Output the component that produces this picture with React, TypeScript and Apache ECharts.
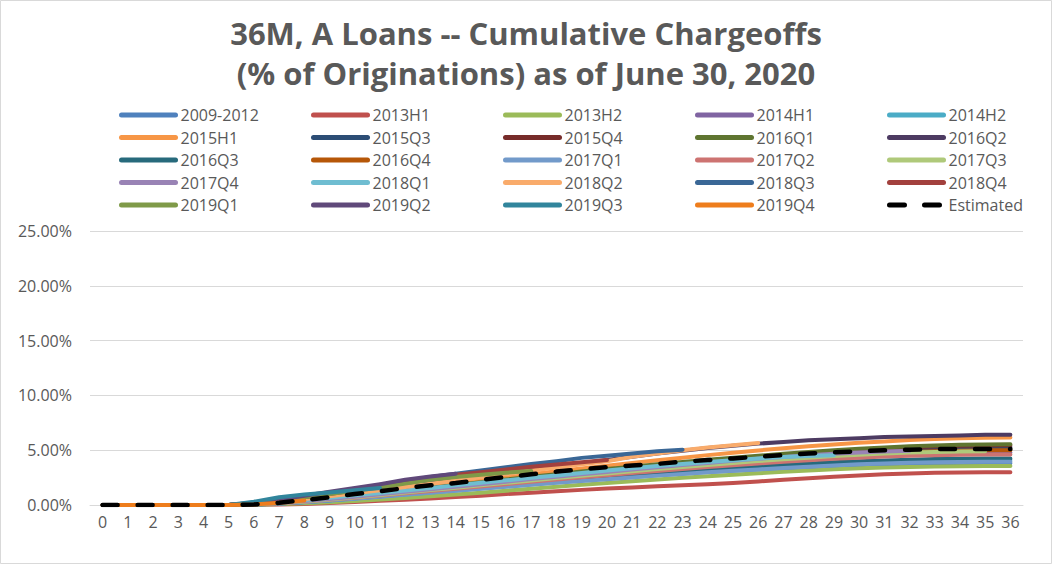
import React, { useEffect, useRef } from 'react';
import * as echarts from 'echarts';

const months = ['0','1','2','3','4','5','6','7','8','9','10','11','12','13','14','15','16','17','18','19','20','21','22','23','24','25','26','27','28','29','30','31','32','33','34','35','36'];

const seriesNames = [
  '2009-2012','2013H1','2013H2','2014H1','2014H2',
  '2015H1','2015Q3','2015Q4','2016Q1','2016Q2',
  '2016Q3','2016Q4','2017Q1','2017Q2','2017Q3',
  '2017Q4','2018Q1','2018Q2','2018Q3','2018Q4',
  '2019Q1','2019Q2','2019Q3','2019Q4','Estimated',
];

const seriesColors = [
  '#4f81bd','#c0504d','#9bbb59','#8064a2','#4bacc6',
  '#f79646','#2c4d75','#772c2a','#5f7530','#4d3b62',
  '#276a7c','#b65708','#729aca','#cd7371','#afc97a',
  '#9983b5','#6fbdd1','#f9ab6b','#3a6796','#a2403d',
  '#7f9a48','#60497a','#31859c','#ee7d1c','#000000',
];

// values in % of originations
const v2009_2012 = [0,0,0,0,0,0,0.04,0.12,0.25,0.4,0.58,0.76,0.95,1.14,1.33,1.52,1.71,1.9,2.08,2.25,2.41,2.57,2.72,2.87,3.0,3.12,3.24,3.34,3.44,3.52,3.6,3.66,3.71,3.74,3.77,3.79,3.8];
const v2013H1 = [0,0,0,0,0,0,0.02,0.05,0.1,0.18,0.28,0.38,0.48,0.6,0.72,0.85,1.0,1.12,1.25,1.38,1.5,1.6,1.7,1.8,1.9,2.0,2.15,2.3,2.45,2.58,2.7,2.8,2.88,2.94,2.97,2.98,2.98];
const v2013H2 = [0,0,0,0,0,0,0.03,0.08,0.15,0.25,0.37,0.5,0.64,0.79,0.95,1.12,1.3,1.48,1.66,1.84,2.0,2.16,2.32,2.48,2.62,2.76,2.9,3.03,3.15,3.26,3.35,3.42,3.47,3.51,3.53,3.55,3.55];
const v2014H1 = [0,0,0,0,0,0,0.06,0.16,0.3,0.48,0.68,0.88,1.1,1.32,1.55,1.78,2.0,2.22,2.45,2.66,2.87,3.07,3.27,3.47,3.65,3.83,4.0,4.15,4.3,4.43,4.55,4.64,4.7,4.75,4.78,4.8,4.8];
const v2014H2 = [0,0,0,0,0,0,0.05,0.14,0.27,0.42,0.59,0.77,0.96,1.15,1.35,1.55,1.74,1.93,2.12,2.3,2.47,2.64,2.8,2.96,3.11,3.26,3.4,3.53,3.65,3.76,3.86,3.94,4.0,4.05,4.08,4.1,4.1];
const v2015H1 = [0,0,0,0,0,0,0.08,0.22,0.42,0.64,0.88,1.13,1.4,1.68,1.96,2.24,2.52,2.8,3.07,3.33,3.58,3.83,4.08,4.32,4.55,4.77,4.98,5.17,5.35,5.52,5.67,5.8,5.92,6.02,6.1,6.14,6.15];
const v2015Q3 = [0,0,0,0,0,0,0.07,0.19,0.36,0.56,0.77,0.99,1.22,1.46,1.7,1.94,2.18,2.42,2.65,2.88,3.1,3.32,3.53,3.74,3.93,4.12,4.3,4.47,4.63,4.78,4.92,5.04,5.14,5.21,5.26,5.29,5.3];
const v2015Q4 = [0,0,0,0,0,0,0.07,0.2,0.37,0.57,0.79,1.02,1.26,1.5,1.75,2.0,2.25,2.49,2.73,2.96,3.19,3.41,3.63,3.84,4.04,4.23,4.41,4.58,4.75,4.9,5.04,5.16,5.26,5.34,5.4,5.44,5.45];
const v2016Q1 = [0,0,0,0,0,0,0.08,0.21,0.39,0.6,0.83,1.07,1.32,1.57,1.82,2.07,2.32,2.57,2.81,3.05,3.28,3.5,3.72,3.93,4.13,4.32,4.5,4.67,4.84,4.99,5.13,5.25,5.35,5.43,5.49,5.53,5.55];
const v2016Q2 = [0,0,0,0,0,0,0.1,0.3,0.55,0.8,1.05,1.35,1.65,2.0,2.3,2.6,2.9,3.2,3.5,3.8,4.1,4.4,4.7,4.95,5.2,5.4,5.6,5.75,5.9,6.0,6.1,6.2,6.25,6.3,6.35,6.4,6.4];
const v2016Q3 = [0,0,0,0,0,0,0.05,0.14,0.27,0.43,0.61,0.8,1.0,1.2,1.4,1.6,1.8,2.0,2.2,2.39,2.57,2.75,2.92,3.08,3.24,3.39,3.53,3.66,3.78,3.89,3.99,4.07,4.14,4.19,4.22,4.24,4.25];
const v2016Q4 = [0,0,0,0,0,0,0.07,0.18,0.34,0.52,0.72,0.93,1.15,1.37,1.6,1.83,2.06,2.29,2.51,2.72,2.93,3.13,3.33,3.52,3.7,3.88,4.05,4.21,4.36,4.5,4.63,4.74,4.84,4.91,4.96,4.99,5.0];
const v2017Q1 = [0,0,0,0,0,0,0.05,0.13,0.25,0.4,0.57,0.75,0.93,1.11,1.3,1.48,1.66,1.84,2.02,2.19,2.36,2.52,2.68,2.83,2.98,3.12,3.25,3.38,3.5,3.61,3.71,3.79,3.85,3.9,3.93,3.95,3.95];
const v2017Q2 = [0,0,0,0,0,0,0.06,0.16,0.3,0.47,0.66,0.86,1.06,1.27,1.48,1.69,1.9,2.11,2.32,2.52,2.72,2.91,3.1,3.28,3.46,3.63,3.79,3.94,4.08,4.21,4.32,4.42,4.5,4.55,4.58,4.6,4.6];
const v2017Q3 = [0,0,0,0,0,0,0.07,0.18,0.33,0.51,0.71,0.92,1.14,1.36,1.58,1.8,2.02,2.24,2.46,2.67,2.88,3.08,3.28,3.47,3.66,3.84,4.01,4.17,4.32,4.46,4.59,4.7,4.78,4.84,4.88,4.9];
const v2017Q4 = [0,0,0,0,0,0,0.08,0.2,0.36,0.55,0.76,0.98,1.21,1.44,1.67,1.9,2.13,2.36,2.58,2.8,3.02,3.23,3.44,3.64,3.84,4.03,4.21,4.38,4.54,4.68,4.8,4.89,4.95];
const v2018Q1 = [0,0,0,0,0,0,0.1,0.25,0.45,0.66,0.88,1.1,1.33,1.56,1.79,2.02,2.25,2.48,2.7,2.92,3.14,3.35,3.55,3.74,3.92,4.09,4.25,4.38,4.48,4.55];
const v2018Q2 = [0,0,0,0,0,0,0.12,0.3,0.54,0.8,1.07,1.35,1.64,1.94,2.24,2.54,2.84,3.14,3.43,3.72,4.0,4.4,4.7,5.0,5.25,5.45,5.65];
const v2018Q3 = [0,0,0,0,0,0,0.2,0.5,0.8,1.1,1.4,1.75,2.2,2.55,2.85,3.15,3.45,3.75,4.0,4.3,4.5,4.7,4.9,5.05];
const v2018Q4 = [0,0,0,0,0,0,0.15,0.4,0.7,1.0,1.35,1.7,2.05,2.4,2.75,3.0,3.25,3.5,3.7,3.9,4.1];
const v2019Q1 = [0,0,0,0,0,0,0.15,0.4,0.7,1.0,1.3,1.6,1.95,2.3,2.55,2.75,2.95,3.1];
const v2019Q2 = [0,0,0,0,0,0,0.2,0.5,0.85,1.2,1.55,1.9,2.3,2.6,2.85];
const v2019Q3 = [0,0,0,0,0,0,0.3,0.7,0.95,1.15,1.35,1.55];
const v2019Q4 = [0,0,0,0,0,0,0.05,0.2,0.4];
const vEstimated = [0,0,0,0,0,0,0.05,0.2,0.45,0.7,1.0,1.25,1.55,1.8,2.0,2.3,2.55,2.8,3.05,3.25,3.45,3.6,3.75,3.95,4.1,4.25,4.4,4.55,4.7,4.8,4.9,5.0,5.05,5.1,5.1,5.1,5.1];

const seriesValues = [
  v2009_2012, v2013H1, v2013H2, v2014H1, v2014H2,
  v2015H1, v2015Q3, v2015Q4, v2016Q1, v2016Q2,
  v2016Q3, v2016Q4, v2017Q1, v2017Q2, v2017Q3,
  v2017Q4, v2018Q1, v2018Q2, v2018Q3, v2018Q4,
  v2019Q1, v2019Q2, v2019Q3, v2019Q4, vEstimated,
];

const titleText = '36M, A Loans -- Cumulative Chargeoffs\n(% of Originations) as of June 30, 2020';

const FONT = "'Open Sans', 'Noto Sans', sans-serif";
const TEXT = '#595959';
const GRID = '#d9d9d9';
const legendLeft = [119, 311, 503, 695, 887];

export default function App() {
  const ref = useRef<HTMLDivElement>(null);
  useEffect(() => {
    document.body.style.margin = '0';
    if (!ref.current) return;
    const chart = echarts.init(ref.current, null, { renderer: 'svg' });
    const series = seriesNames.map((name, i) => {
      const isEst = name === 'Estimated';
      return {
        name,
        type: 'line',
        data: seriesValues[i],
        symbol: 'none',
        z: isEst ? 5 : 2,
        lineStyle: {
          color: seriesColors[i],
          width: isEst ? 4.5 : 4,
          type: isEst ? [15, 20] : 'solid',
          cap: 'round',
          join: 'round',
        },
        itemStyle: { color: seriesColors[i] },
      };
    });
    const legends = legendLeft.map((left, c) => ({
      orient: 'vertical',
      left,
      top: 107,
      itemWidth: 54,
      itemHeight: 14,
      itemGap: 6.5,
      padding: 0,
      selectedMode: false,
      data: seriesNames.filter((_, i) => i % 5 === c),
      textStyle: { color: TEXT, fontSize: 16, fontFamily: FONT },
      itemStyle: { opacity: 0 },
      lineStyle: { width: 5, cap: 'round' },
    }));
    chart.setOption({
      animation: false,
      backgroundColor: '#ffffff',
      title: {
        text: titleText,
        left: 'center',
        top: 8,
        textStyle: {
          color: TEXT,
          fontSize: 31,
          fontWeight: 'bold',
          fontFamily: "'Open Sans', sans-serif",
          lineHeight: 40,
        },
      },
      legend: legends,
      grid: { left: 90, right: 29, top: 231, bottom: 59, containLabel: false },
      xAxis: {
        type: 'category',
        data: months,
        boundaryGap: true,
        axisLine: { show: true, lineStyle: { color: GRID } },
        axisTick: { show: false },
        axisLabel: { color: TEXT, fontSize: 16, fontFamily: FONT, interval: 0, margin: 9 },
      },
      yAxis: {
        type: 'value',
        min: 0,
        max: 25,
        interval: 5,
        axisLine: { show: false },
        axisTick: { show: false },
        splitLine: { lineStyle: { color: GRID, width: 1 } },
        axisLabel: {
          color: TEXT,
          fontSize: 16,
          fontFamily: FONT,
          margin: 18,
          formatter: (v: number) => v.toFixed(2) + '%',
        },
      },
      graphic: [
        {
          type: 'rect',
          shape: { x: 0.5, y: 0.5, width: 1051, height: 563 },
          style: { fill: 'none', stroke: GRID, lineWidth: 1 },
          silent: true,
        },
      ],
      series,
    });
    return () => chart.dispose();
  }, []);
  return <div ref={ref} style={{ width: 1052, height: 564 }} />;
}
